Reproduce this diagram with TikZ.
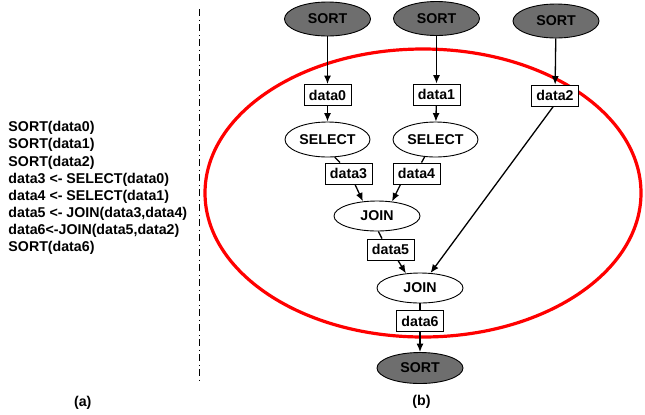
\documentclass[tikz,border=0pt]{standalone}
\usepackage{fontspec}
\setmainfont{Liberation Sans}
\usetikzlibrary{arrows.meta,shapes.geometric,calc}
\definecolor{sortgray}{RGB}{110,110,110}
\begin{document}
\begin{tikzpicture}[x=1bp,y=-1bp,
  font=\fontsize{14.2bp}{17bp}\selectfont\bfseries,
  sortnode/.style={ellipse, draw, fill=sortgray, minimum width=86bp, minimum height=34bp, inner sep=0pt, line width=0.9bp},
  opnode/.style={ellipse, draw, fill=white, minimum width=85bp, minimum height=35bp, inner sep=0pt, line width=0.9bp},
  joinnode/.style={ellipse, draw, fill=white, minimum width=86bp, minimum height=30bp, inner sep=0pt, line width=0.9bp},
  databox/.style={rectangle, draw, fill=white, minimum width=47bp, minimum height=21bp, inner sep=0pt, line width=0.9bp},
  arr/.style={-{Latex[length=8.5bp,width=7bp]}, line width=1.3bp},
  plainedge/.style={line width=1.3bp},
  codeline/.style={anchor=base west, inner sep=0pt},
  dashdot/.style={dash pattern=on 7bp off 3.5bp on 1bp off 3.5bp, line width=1.1bp}]
\useasboundingbox (0,0) rectangle (645,414);
% red cluster ellipse
\draw[red, line width=3.2bp] (423,193) ellipse [x radius=218, y radius=144];
% separator
\coordinate (dtop) at (199.5,9);
\coordinate (dbot) at (199.5,382);
\draw[dashdot] (dtop) -- (dbot);
% code listing
\node[codeline] (t1) at (8.3,131.8) {SORT(data0)};
\node[codeline] (t2) at (8.3,148.9) {SORT(data1)};
\node[codeline] (t3) at (8.3,166.0) {SORT(data2)};
\node[codeline] (t4) at (8.3,183.1) {data3 <- SELECT(data0)};
\node[codeline] (t5) at (8.3,200.2) {data4 <- SELECT(data1)};
\node[codeline] (t6) at (8.3,217.3) {data5 <- JOIN(data3,data4)};
\node[codeline] (t7) at (8.3,234.4) {data6<-JOIN(data5,data2)};
\node[codeline] (t8) at (8.3,251.5) {SORT(data6)};
% graph nodes
\node[sortnode] (s0) at (327.5,19) {SORT};
\node[sortnode] (s1) at (436.5,18.5) {SORT};
\node[sortnode] (s2) at (556,21) {SORT};
\node[databox] (d0) at (327.5,95) {data0};
\node[databox] (d1) at (436.5,94.5) {data1};
\node[databox] (d2) at (555,95.5) {data2};
\node[opnode] (sel0) at (327.5,139.5) {SELECT};
\node[opnode] (sel1) at (435.5,139.5) {SELECT};
\node[databox] (d3) at (348.5,173.5) {data3};
\node[databox] (d4) at (416.5,173.5) {data4};
\node[joinnode] (j0) at (377,216) {JOIN};
\node[databox] (d5) at (390.5,249.5) {data5};
\node[joinnode] (j1) at (420,288) {JOIN};
\node[databox] (d6) at (420,321) {data6};
\node[sortnode, minimum height=31bp] (s3) at (420,368) {SORT};
% edges
\draw[arr] (s0) -- (d0);
\draw[arr] (d0) -- (sel0);
\draw[arr] (s1) -- (d1);
\draw[arr] (d1) -- (sel1);
\draw[arr] (s2) -- (d2);
\draw[arr] ($(d2.south)+(-1.7,0)$) -- (j1.55.6);
\draw[plainedge] (sel0.-68) -- ($(d3.north)+(-8.5,0)$);
\draw[arr] ($(d3.south)+(6.5,0)$) -- (j0.134);
\draw[plainedge] (sel1.238) -- ($(d4.north)+(5,0)$);
\draw[arr] ($(d4.south)+(-16,0)$) -- (j0.44);
\draw[plainedge] (j0.-85) -- ($(d5.north)+(-8.5,0)$);
\draw[arr] ($(d5.south)+(7.5,0)$) -- (j1.134);
\draw[plainedge] (j1) -- (d6);
\draw[arr] (d6) -- (s3);
% captions
\node (la) at (82.7,402.5) {(a)};
\node (lb) at (421.5,401.5) {(b)};
\end{tikzpicture}
\end{document}
